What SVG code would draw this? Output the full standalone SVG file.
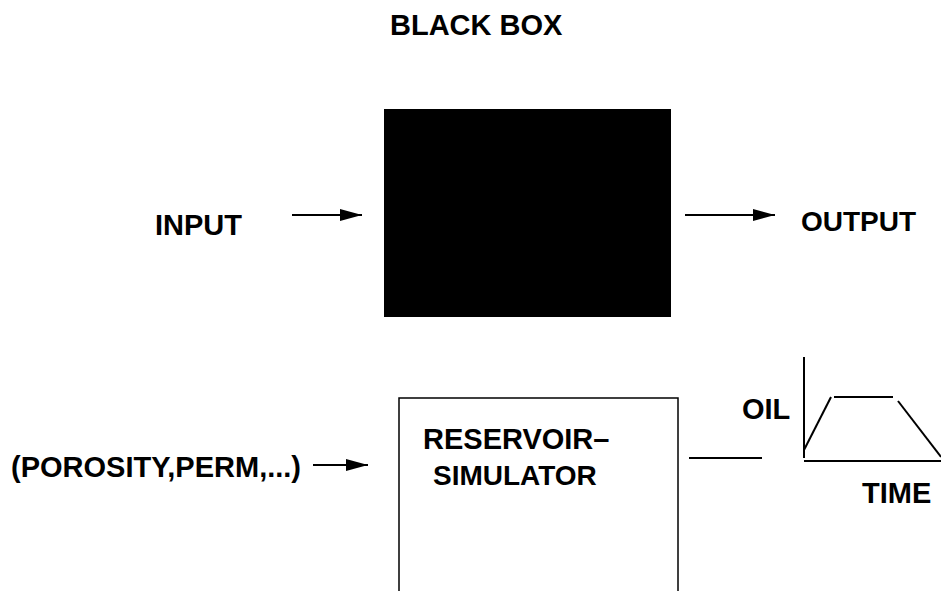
<svg xmlns="http://www.w3.org/2000/svg" width="941" height="591" viewBox="0 0 941 591">
<style>
text{font-family:"Liberation Sans",Arial,sans-serif;font-weight:bold;font-size:29px;fill:#000}
.ln{stroke:#000;stroke-width:2;fill:none}
</style>
<defs>
<marker id="ah" markerWidth="22" markerHeight="12" refX="22" refY="6" orient="auto" markerUnits="userSpaceOnUse">
<path d="M0,0 L22,6 L0,12 Z" fill="#000"/>
</marker>
</defs>
<rect width="941" height="591" fill="#fff"/>
<g id="title"><text x="390" y="35">BLACK BOX</text></g>
<g id="input"><text x="155" y="235">INPUT</text></g>
<g id="blackbox"><rect x="384" y="109" width="287" height="208" fill="#000"/></g>
<g id="output"><text x="801" y="231" style="font-size:28px">OUTPUT</text></g>
<g id="params"><text x="11" y="477">(POROSITY,PERM,...)</text></g>
<g id="simulator">
<rect x="399" y="398" width="279" height="200" fill="none" stroke="#000" stroke-width="1.5"/>
<text x="423" y="449">RESERVOIR–</text>
<text x="433" y="485" style="font-size:28px">SIMULATOR</text>
</g>
<g id="chart">
<line class="ln" x1="804" y1="357" x2="804" y2="458"/>
<line class="ln" x1="804" y1="461" x2="941" y2="461"/>
<line class="ln" x1="804" y1="450" x2="831" y2="397"/>
<line class="ln" x1="834" y1="397" x2="893" y2="397"/>
<line class="ln" x1="898" y1="401" x2="941" y2="457"/>
<text x="742" y="419">OIL</text>
<text x="862" y="503">TIME</text>
</g>
<g id="connectors">
<line class="ln" x1="292" y1="215" x2="362" y2="215" marker-end="url(#ah)"/>
<line class="ln" x1="685" y1="215" x2="775" y2="215" marker-end="url(#ah)"/>
<line class="ln" x1="313" y1="465" x2="368" y2="465" marker-end="url(#ah)"/>
<line class="ln" x1="689" y1="458" x2="762" y2="458"/>
</g>
</svg>
